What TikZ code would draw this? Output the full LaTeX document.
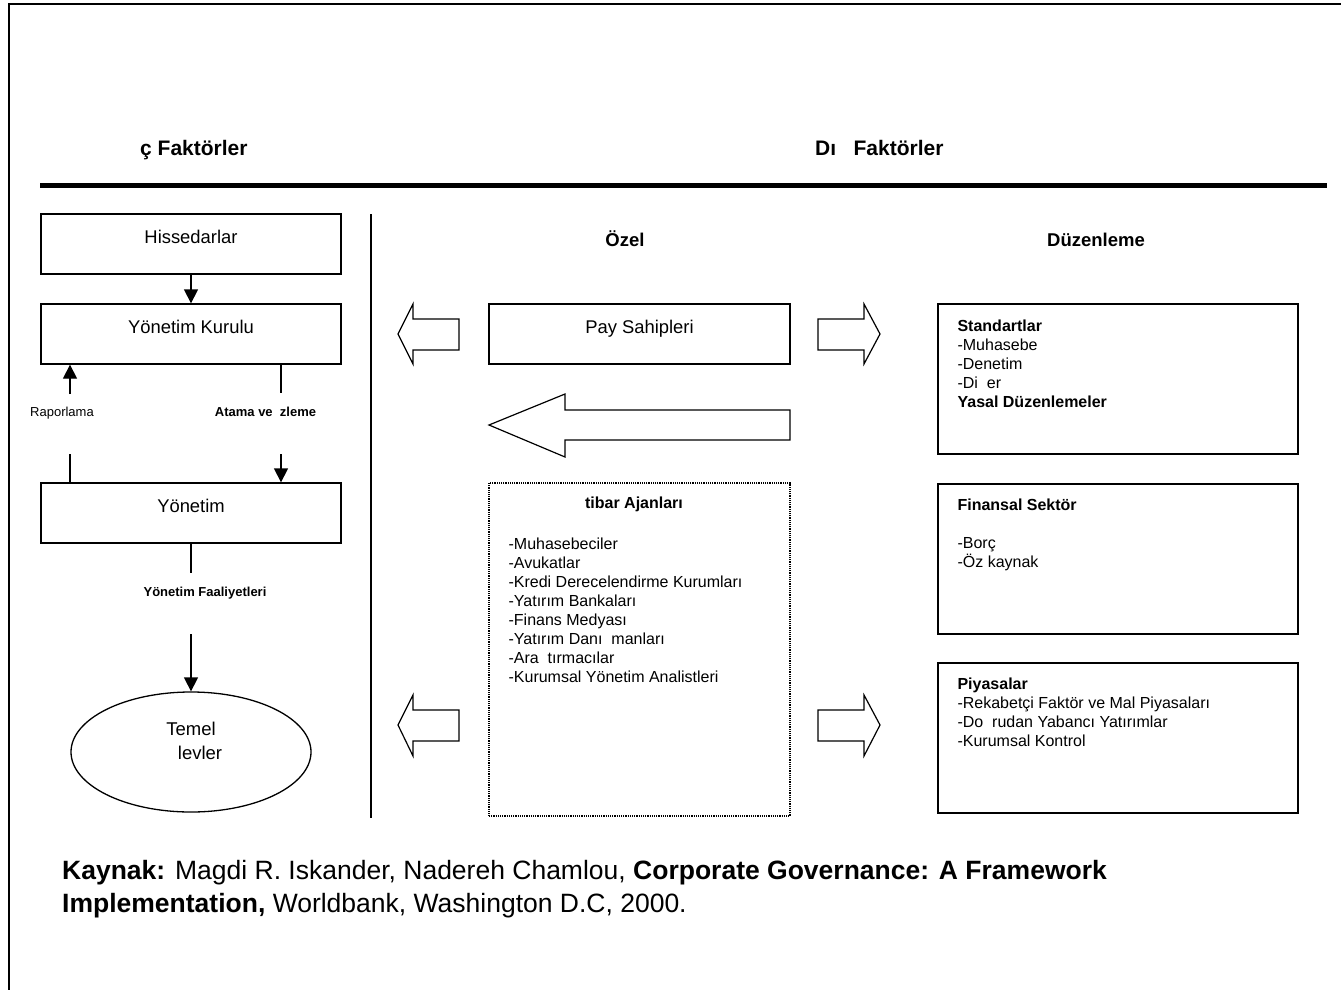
\documentclass[tikz,border=0pt]{standalone}
\usepackage{fontspec}
\setmainfont{Liberation Sans}
\usetikzlibrary{arrows.meta,positioning,shapes.geometric}

\tikzset{
  kutu/.style={draw, line width=1.3pt, minimum width=300pt, minimum height=60pt,
    inner ysep=0pt, text height=29.6pt, text depth=30.4pt,
    font=\fontsize{18.4}{22}\selectfont},
  sagkutu/.style={draw, line width=1.3pt, minimum width=360pt, minimum height=150pt},
  liste/.style={inner sep=0pt, align=left, font=\fontsize{16}{19}\selectfont},
  baslik/.style={inner sep=0pt, font=\bfseries\fontsize{21}{25}\selectfont},
  kucuk/.style={inner sep=0pt, font=\fontsize{13}{16}\selectfont},
  kucukkalin/.style={inner sep=0pt, font=\bfseries\fontsize{13}{16}\selectfont},
  ok/.style={-{Triangle[length=14pt,width=14pt]}, line width=1.3pt},
  cizgi/.style={line width=1.3pt},
  blok/.style={draw, line width=1.2pt, line join=miter},
}

\begin{document}
\begin{tikzpicture}[x=1pt,y=-1pt]
    \useasboundingbox (0,0) rectangle (1341,990);

    % cerceve ve ayirici cizgiler
    \draw[line width=2.5pt] (9,990) -- (9,4) -- (1341,4);
    \draw[line width=5pt] (40,185) -- (1327,185);
    \draw[cizgi] (371,214) -- (371,818);

    % basliklar
    \node[baslik, anchor=base west] (ic) at (140,155.5) {ç Faktörler};
    \node[baslik, anchor=base west] (dis) at (815,155.5) {Dı\hspace{0.83em}Faktörler};
    \node[inner sep=0pt, anchor=base, font=\bfseries\fontsize{18.5}{22}\selectfont] (ozel) at (625,246.6) {Özel};
    \node[inner sep=0pt, anchor=base, font=\bfseries\fontsize{18.5}{22}\selectfont] (duzen) at (1096,246.6) {Düzenleme};

    % ic faktorler
    \node[kutu] (hisse) at (191,244) {Hissedarlar};
    \node[kutu] (kurulu) at (191,334) {Yönetim Kurulu};
    \node[kutu] (yonetim) at (191,513) {Yönetim};
    \node[draw, ellipse, line width=1.3pt, minimum width=240pt, minimum height=120pt] (temel) at (191,752) {};
    \node[inner sep=0pt, align=center, font=\fontsize{18.5}{24}\selectfont] (temelyazi) at (191,741) {Temel\\\hspace*{18pt}levler};

    \node[kucuk, anchor=base] (rapyazi) at (62,416.7) {Raporlama};
    \node[kucukkalin, anchor=base] (atayazi) at (265.5,416.7) {Atama ve\ \ zleme};
    \node[kucukkalin, anchor=base] (faal) at (205,596.7) {Yönetim Faaliyetleri};

    \coordinate (rap1) at (70,394);
    \coordinate (rap2) at (70,454);
    \coordinate (ata1) at (281,393);
    \coordinate (ata2) at (281,454);
    \coordinate (faal1) at (191,573);
    \coordinate (faal2) at (191,634);

    \draw[ok] (hisse) -- (kurulu);
    \draw[ok] (rap1) -- (rap1 |- kurulu.south);
    \draw[cizgi] (rap2) -- (rap2 |- yonetim.north);
    \draw[cizgi] (ata1 |- kurulu.south) -- (ata1);
    \draw[ok] (ata2) -- (ata2 |- yonetim.north);
    \draw[cizgi] (yonetim) -- (faal1);
    \draw[ok] (faal2) -- (temel);

    % ozel
    \node[kutu, minimum width=301pt] (pay) at (639.5,334) {Pay Sahipleri};
    \node[draw, densely dotted, line width=1.2pt, minimum width=301pt, minimum height=333pt] (itibar) at (639.5,649.5) {};
    \node[inner sep=0pt, anchor=base, font=\bfseries\fontsize{16}{19}\selectfont] (itibarbaslik) at (634,508.7) {tibar Ajanları};
    \node[liste, below right=55pt and 20pt of itibar.north west] (itibarliste) {-Muhasebeciler\\-Avukatlar\\-Kredi Derecelendirme Kurumları\\-Yatırım Bankaları\\-Finans Medyası\\-Yatırım Danı\ \ manları\\-Ara\ \ tırmacılar\\-Kurumsal Yönetim Analistleri};

    % blok oklar
    \path[blok] (459,319) -- (413,319) -- (413,304) -- (398,334) -- (413,364) -- (413,350) -- (459,350) -- cycle;
    \path[blok] (818,319) -- (864,319) -- (864,304) -- (880,334) -- (864,364) -- (864,350) -- (818,350) -- cycle;
    \path[blok] (790,410) -- (565,410) -- (565,394) -- (489,425) -- (565,457) -- (565,440) -- (790,440) -- cycle;
    \path[blok] (459,710) -- (413,710) -- (413,695) -- (398,725) -- (413,756) -- (413,741) -- (459,741) -- cycle;
    \path[blok] (818,710) -- (864,710) -- (864,695) -- (880,725) -- (864,756) -- (864,741) -- (818,741) -- cycle;

    % duzenleme
    \node[sagkutu] (std) at (1118,379) {};
    \node[liste, below right=16pt and 20pt of std.north west] (stdyazi) {\textbf{Standartlar}\\-Muhasebe\\-Denetim\\-Di\ \ er\\\textbf{Yasal Düzenlemeler}};
    \node[sagkutu] (fin) at (1118,559) {};
    \node[liste, below right=15pt and 20pt of fin.north west] (finyazi) {\textbf{Finansal Sektör}\\[19pt]-Borç\\-Öz kaynak};
    \node[sagkutu] (piy) at (1118,738) {};
    \node[liste, below right=15pt and 20pt of piy.north west] (piyyazi) {\textbf{Piyasalar}\\-Rekabetçi Faktör ve Mal Piyasaları\\-Do\ \ rudan Yabancı Yatırımlar\\-Kurumsal Kontrol};

    % kaynak
    \node[inner sep=0pt, anchor=north west, align=left, font=\fontsize{26.5}{33}\selectfont] (kaynak) at (62,860) {\textbf{Kaynak:} Magdi R. Iskander, Nadereh Chamlou, \textbf{Corporate Governance: A Framework}\\\textbf{Implementation,} Worldbank, Washington D.C, 2000.};
\end{tikzpicture}
\end{document}
